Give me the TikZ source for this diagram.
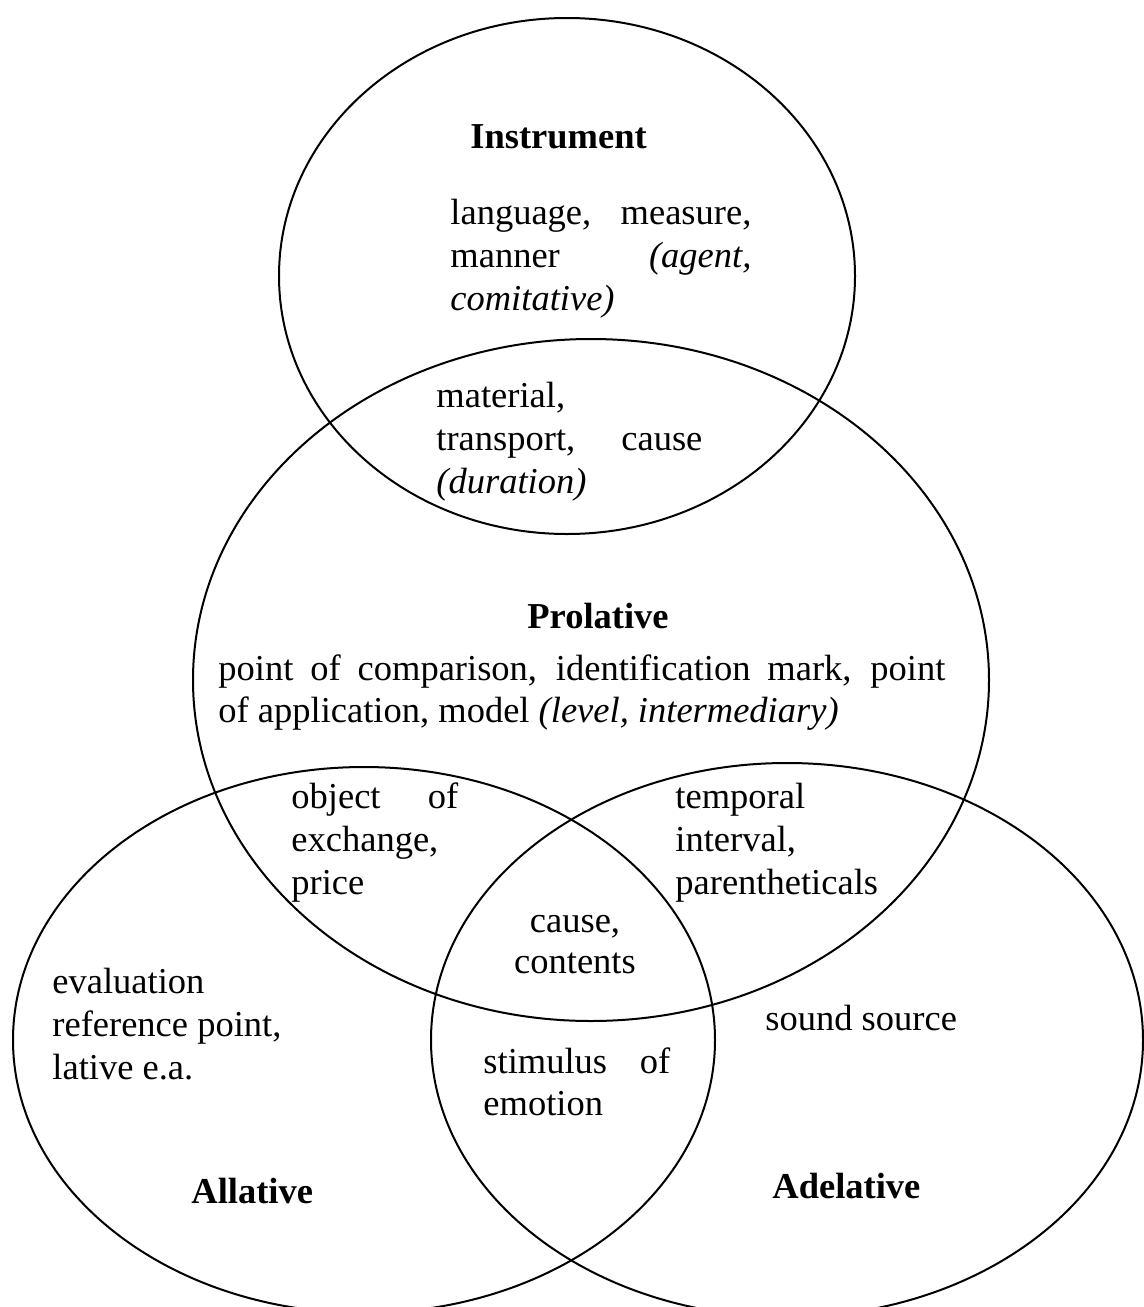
\documentclass[tikz,border=0pt]{standalone}
\usepackage{fontspec}
\setmainfont{Liberation Serif}
\newcommand\vennsize{\fontsize{18.25pt}{21.5pt}\selectfont}
\begin{document}
\begin{tikzpicture}[x=0.5pt,y=-0.5pt,
  venn/.style={line width=1pt},
  txt/.style={inner sep=0pt, anchor=base west, font=\vennsize},
  ctxt/.style={inner sep=0pt, anchor=base, font=\vennsize},
  head/.style={inner sep=0pt, anchor=base west, font=\vennsize\bfseries}]
\useasboundingbox (0,0) rectangle (1144,1307);
% circles
\draw[venn] (567,276) ellipse [x radius=144pt, y radius=129pt];
\draw[venn] (591,680) ellipse [x radius=199pt, y radius=170.5pt];
\draw[venn] (364,1040) ellipse [x radius=175.5pt, y radius=136.5pt];
\draw[venn] (787,1040) ellipse [x radius=178pt, y radius=138.5pt];
% Instrument
\node[head] (instr) at (470,148) {Instrument};
\node[txt] (i1) at (450,224) {\makebox[150.5pt][s]{language, measure,}};
\node[txt] (i2) at (450,267) {\makebox[150.5pt][s]{manner \textit{(agent,}}};
\node[txt] (i3) at (450,310) {\textit{comitative)}};
% Instrument & Prolative
\node[txt] (m1) at (436,407) {material,};
\node[txt] (m2) at (436,450) {\makebox[133pt][s]{transport, cause}};
\node[txt] (m3) at (436,493) {\textit{(duration)}};
% Prolative
\node[head] (prol) at (527,628) {Prolative};
\node[txt] (p1) at (218,680) {\makebox[363.5pt][s]{point of comparison, identification mark, point}};
\node[txt] (p2) at (218,722) {of application, model \textit{(level, intermediary)}};
% Prolative & Allative
\node[txt] (o1) at (291,808) {\makebox[83.5pt][s]{object of}};
\node[txt] (o2) at (291,851) {exchange,};
\node[txt] (o3) at (291,894) {price};
% Prolative & Adelative
\node[txt] (t1) at (675,808) {temporal};
\node[txt] (t2) at (675,851) {interval,};
\node[txt] (t3) at (675,894) {parentheticals};
% centre
\node[ctxt] (c1) at (575,932) {cause,};
\node[ctxt] (c2) at (575,973) {contents};
% Allative
\node[txt] (a1) at (52,993) {evaluation};
\node[txt] (a2) at (52,1036) {reference point,};
\node[txt] (a3) at (52,1079) {lative e.a.};
\node[head] (allat) at (191,1203) {Allative};
% Adelative
\node[txt] (s1) at (765,1030) {sound source};
\node[head] (adel) at (772,1198) {Adelative};
% Allative & Adelative
\node[txt] (e1) at (483,1073) {\makebox[93.5pt][s]{stimulus of}};
\node[txt] (e2) at (483,1115) {emotion};
\end{tikzpicture}
\end{document}
